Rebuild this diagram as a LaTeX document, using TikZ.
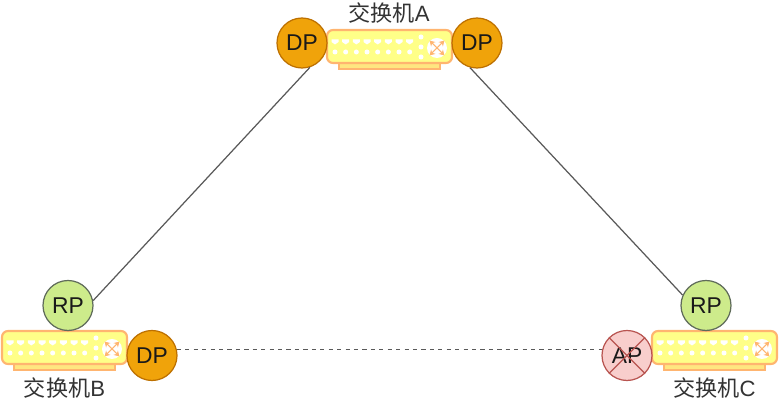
\documentclass[tikz,border=0pt]{standalone}
\usepackage{fontspec}
\setmainfont{Liberation Sans}
\newfontfamily\cjk{Noto Sans CJK SC}
\usetikzlibrary{arrows.meta}
\definecolor{dpfill}{HTML}{F0A30A}
\definecolor{dpline}{HTML}{BD7000}
\definecolor{rpfill}{HTML}{CDEB8B}
\definecolor{rpline}{HTML}{5F6B5A}
\definecolor{apfill}{HTML}{F8CECC}
\definecolor{apline}{HTML}{B85450}
\definecolor{swfill}{HTML}{FFFF88}
\definecolor{swline}{HTML}{FFB570}
\definecolor{swbase}{HTML}{FFE680}
\tikzset{
        port/.style={circle,minimum size=1cm,inner sep=0pt,line width=.7pt,font=\fontsize{13}{13}\selectfont,text=black!90},
        dpport/.style={port,fill=dpfill,draw=dpline},
        rpport/.style={port,fill=rpfill,draw=rpline},
        apport/.style={port,fill=apfill,draw=apline},
        swlabel/.style={inner sep=0pt,font=\fontsize{12.6}{13}\selectfont,text=black!80},
        link/.style={draw=black!65,line width=.7pt},
        switchbox/.pic={
                \filldraw[swbase,draw=swline,line width=.8pt] (12,33) rectangle (113,39);
                \filldraw[swfill,draw=swline,line width=1.2pt,rounded corners=.12cm] (0,0) rectangle (125,33);
                \foreach \i in {0,...,7}{
                        \fill[white] (4.5+\i*10.67,9.5) -- (11.5+\i*10.67,9.5) -- (11.5+\i*10.67,12)
                                -- (8+\i*10.67,14.5) -- (4.5+\i*10.67,12) -- cycle;
                        \fill[white] (8+\i*10.67,22) circle (.05cm);
                }
                \foreach \j in {7,17,27}{
                        \fill[white] (94,\j) circle (.05cm);
                }
                \fill[white] (110,18) circle (.2cm);
                \foreach \a in {45,135,225,315}{
                        \draw[swline,line width=.6pt,-{Stealth[length=3pt,width=3.5pt]}]
                                (110,18) -- ++(\a:.21cm);
                }
        }
}

\begin{document}
\begin{tikzpicture}[x=.02cm,y=-.02cm]
        \useasboundingbox (0,0) rectangle (779,404);

        \pic at (327,30) {switchbox};
        \pic at (2,331) {switchbox};
        \pic at (652,331) {switchbox};

        \node[dpport] (dpa) at (302,43) {DP};
        \node[dpport] (dpb) at (477,43) {DP};
        \node[rpport] (rpb) at (68,305.5) {RP};
        \node[dpport] (dpc) at (152,355.5) {DP};
        \node[rpport] (rpc) at (706,305.5) {RP};
        \node[apport] (apc) at (627,355.5) {AP};

        \draw[apline,line width=.7pt] (apc.45) -- (apc.225);
        \draw[apline,line width=.7pt] (apc.135) -- (apc.315);

        \node[swlabel] (laba) at (389,13) {{\cjk 交换机}A};
        \node[swlabel] (labb) at (64.5,388) {{\cjk 交换机}B};
        \node[swlabel] (labc) at (714.5,388) {{\cjk 交换机}C};

        \draw[link] (dpa.-72) -- (rpb.11);
        \draw[link] (dpb.254) -- (rpc.156);
        \draw[link,dashed,dash pattern=on 2.4pt off 2.4pt] (dpc.14) -- (apc.166);
\end{tikzpicture}
\end{document}
